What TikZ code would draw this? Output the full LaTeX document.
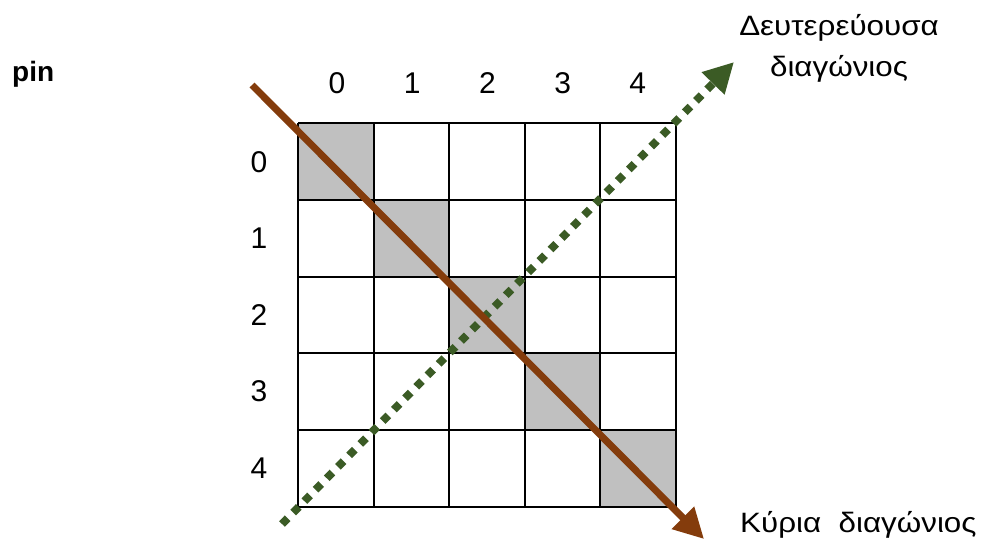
\documentclass[tikz,border=0pt]{standalone}
\usepackage{fontspec}
\setmainfont{Liberation Sans}
\newfontfamily\greekfont[FakeStretch=1.12]{Liberation Sans}
\usetikzlibrary{arrows.meta}
\definecolor{cellgray}{HTML}{C0C0C0}
\definecolor{mainbrown}{HTML}{843C0C}
\definecolor{secgreen}{HTML}{3B5B25}
\begin{document}
\begin{tikzpicture}[x=1pt,y=-1pt,
  idx/.style={font=\fontsize{30}{34}\selectfont, inner sep=0pt, anchor=base},
  greek/.style={font=\greekfont\fontsize{28}{32}\selectfont, inner sep=0pt, anchor=base},
  gridline/.style={line width=2pt, black},
  maindiag/.style={draw=mainbrown, line width=7pt, -{Triangle[length=30pt,width=30pt]}},
  secdiag/.style={draw=secgreen, line width=8pt, dash pattern=on 8pt off 8pt, -{Triangle[length=30pt,width=30pt]}}]
\useasboundingbox (0,0) rectangle (987,541);
% shaded diagonal cells
\foreach \i in {0,...,4}
  \fill[cellgray] (298+75.6*\i,123+76.8*\i) rectangle ++(75.6,76.8);
% grid
\foreach \i in {0,...,5} {
  \draw[gridline] (298+75.6*\i,123) -- (298+75.6*\i,507);
  \draw[gridline] (298,123+76.8*\i) -- (676,123+76.8*\i);
}
% index labels
\foreach \i in {0,...,4} {
  \node[idx] (c\i) at (337+75.2*\i,93) {\i};
  \node[idx] (r\i) at (259,172+76.5*\i) {\i};
}
% diagonals
\coordinate (ms) at (252,85);
\coordinate (me) at (704,539);
\coordinate (ss) at (282,524);
\coordinate (se) at (734,62);
\draw[secdiag] (ss) -- (se);
\draw[maindiag] (ms) -- (me);
% labels
\node[greek] (sec1) at (839,35) {Δευτερεύουσα};
\node[greek] (sec2) at (839,76) {διαγώνιος};
\node[greek, anchor=base west] (mainlbl) at (740,532) {Κύρια\ \ διαγώνιος};
\node[font=\bfseries\fontsize{28}{32}\selectfont, inner sep=0pt, anchor=base west] (pin) at (12,81) {pin};
\end{tikzpicture}
\end{document}
